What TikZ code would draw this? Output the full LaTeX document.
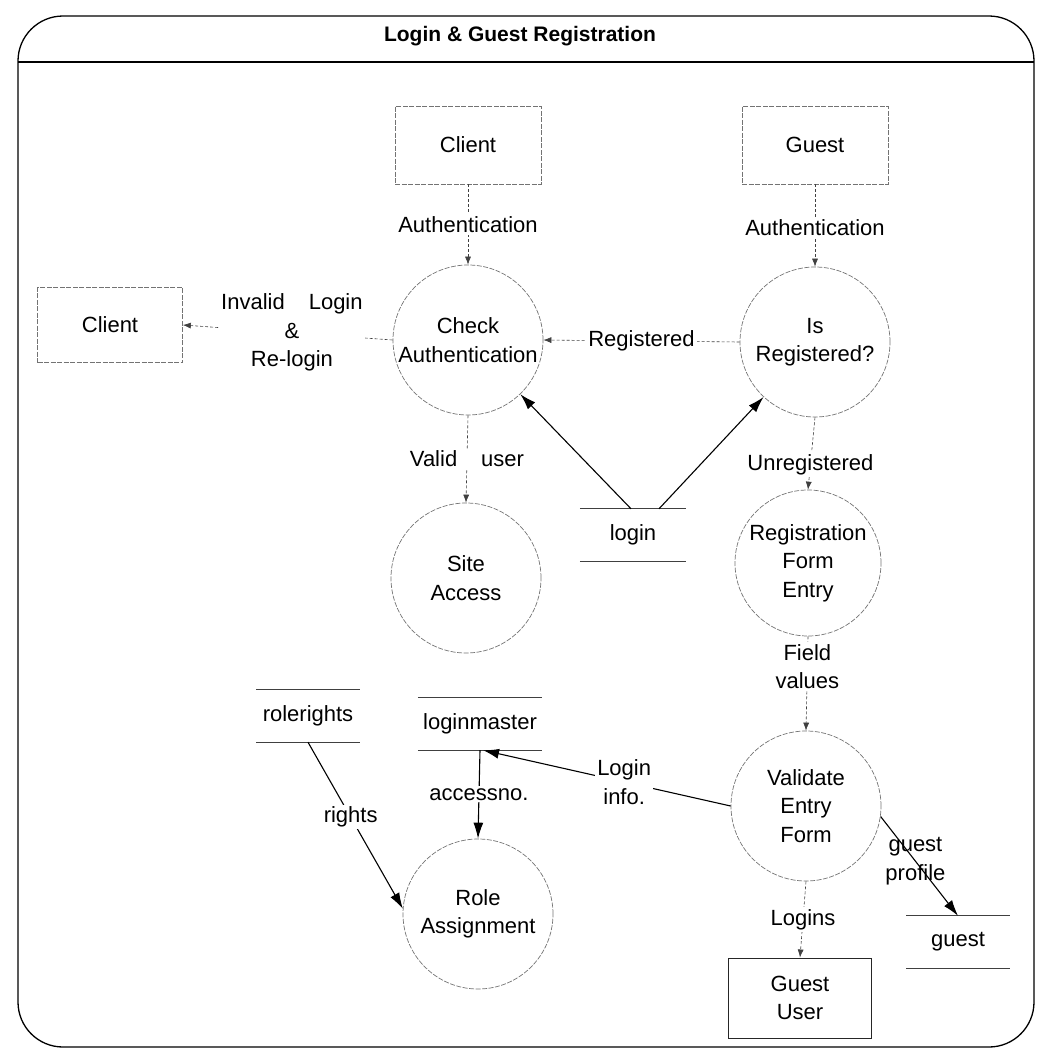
\documentclass[tikz,border=0pt]{standalone}
\usepackage{fontspec}
\setmainfont{Liberation Sans}
\usetikzlibrary{arrows.meta}

\begin{document}
\begin{tikzpicture}[x=1pt,y=-1pt,
  every node/.style={font=\fontsize{22}{28.5}\selectfont, text=black, inner sep=1pt},
  proc/.style={circle, draw=black!55, line width=0.7pt, dash pattern=on 5pt off 1.5pt,
    minimum size=150pt, inner sep=0pt, align=center},
  ent/.style={rectangle, draw=black!55, line width=0.7pt, dash pattern=on 5pt off 1.5pt,
    minimum width=146pt, minimum height=78pt, align=center},
  entsolid/.style={rectangle, draw=black!85, line width=1pt,
    minimum width=143pt, minimum height=80pt, align=center},
  store/.style={minimum height=52pt, inner sep=0pt},
  storeline/.style={draw=black!75, line width=0.8pt},
  flow/.style={draw=black!75, line width=0.6pt, dash pattern=on 3pt off 2pt,
    -{Latex[length=8pt,width=6pt]}},
  dflow/.style={draw=black, line width=1.1pt, -{Latex[length=16pt,width=10pt]}},
  lbl/.style={fill=white, align=center, inner sep=2pt},
  frame/.style={draw=black, line width=1.3pt}
]
\useasboundingbox (0,0) rectangle (1038,1061);

% outer frame with title band
\draw[frame, rounded corners=45pt] (18,16) rectangle (1034,1047);
\draw[frame] (18,62) -- (1034,62);
\node[font=\bfseries\fontsize{21}{24}\selectfont] (title) at (520,36) {Login \& Guest Registration};

% external entities
\node[ent] (client1) at (468,145) {Client};
\node[ent] (guest) at (815,145) {Guest};
\node[ent, minimum width=145pt, minimum height=75pt] (client2) at (110,325) {Client};
\node[entsolid] (guestuser) at (800,998) {Guest\\User};

% processes
\node[proc] (check) at (468,340) {Check\\Authentication};
\node[proc] (isreg) at (815,342) {Is\\Registered?};
\node[proc] (site) at (466,578) {Site\\Access};
\node[proc, minimum size=146pt] (regform) at (808,563) {Registration\\Form\\Entry};
\node[proc] (validate) at (806,806) {Validate\\Entry\\Form};
\node[proc] (role) at (478,914) {Role\\Assignment};

% data stores
\node[store, minimum width=106pt] (login) at (633,535) {login};
\node[store, minimum width=103pt] (rolerights) at (308,716) {rolerights};
\node[store, minimum width=124pt] (loginmaster) at (480,724) {loginmaster};
\node[store, minimum width=103pt] (gueststore) at (958,942) {guest};
\foreach \s in {login,rolerights,loginmaster,gueststore}{
  \draw[storeline] (\s.north west) -- (\s.north east);
  \draw[storeline] (\s.south west) -- (\s.south east);
}

% flows from entities and between processes
\draw[flow] (client1.south) -- node[lbl] {Authentication} (check.north);
\draw[flow] (guest.south) -- node[lbl, pos=0.52] {Authentication} (isreg.north);
\draw[flow] (isreg.west) -- node[lbl] {Registered} (check.east);
\draw[flow] (check.west) -- node[lbl, pos=0.48] {Invalid\hspace{24pt}Login\\\&\\Re-login} (client2.east);
\draw[flow] (check.south) -- node[lbl] {Valid\hspace{24pt}user} (site.north);
\draw[flow] (isreg.south) -- node[lbl, pos=0.65] {Unregistered} (regform.north);
\draw[flow] (regform.south) -- node[lbl, pos=0.32] {Field\\values} (validate.north);
\draw[flow] (validate.south) -- node[lbl] {Logins} (guestuser.north);

% flows to and from data stores
\draw[dflow] ([xshift=-2pt]login.north) -- (check);
\draw[dflow] ([xshift=26pt]login.north) -- (isreg);
\draw[dflow] (validate.west) -- node[lbl, pos=0.43] {Login\\info.} ([xshift=3pt]loginmaster.south);
\draw[dflow] (loginmaster.south) -- node[lbl] {accessno.} (role.north);
\draw[dflow] (rolerights.south) -- node[lbl, pos=0.45] {rights} (role.176);
\draw[dflow] (validate.-8) -- node[align=center, pos=0.45] {guest\\profile} (gueststore.north);

\end{tikzpicture}
\end{document}
